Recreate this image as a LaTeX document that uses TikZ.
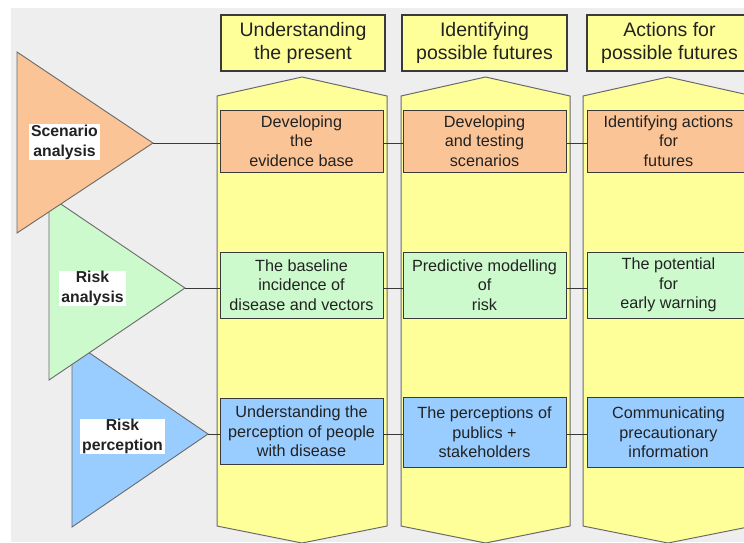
\documentclass[tikz,border=0pt]{standalone}
\usepackage{fontspec}
\setmainfont{Liberation Sans}
\definecolor{bgc}{HTML}{EEEEEE}
\definecolor{yel}{HTML}{FFFF99}
\definecolor{org}{HTML}{FBC496}
\definecolor{grn}{HTML}{CCFACC}
\definecolor{blu}{HTML}{99CCFF}
\definecolor{edge}{HTML}{3A3A3A}
\definecolor{coledge}{HTML}{6A6A6A}
\definecolor{txt}{HTML}{222222}
\tikzset{
  head/.style={draw=edge, line width=1.2pt, fill=yel, minimum height=56pt, inner sep=0pt, align=center, text=txt, font=\fontsize{19.5}{23}\selectfont},
  cell/.style={draw=edge, line width=1pt, minimum width=163pt, inner sep=0pt, align=center, text=txt, font=\fontsize{16.2}{19.5}\selectfont},
  column/.style={draw=coledge, line width=1pt, fill=yel},
  tri/.style={draw=coledge, line width=0.9pt},
  trilabel/.style={fill=white, inner xsep=2pt, inner ysep=0.5pt, align=center, text=txt, font=\bfseries\fontsize{15.8}{20}\selectfont},
  link/.style={draw=edge, line width=0.9pt}
}
\begin{document}
\begin{tikzpicture}[x=1pt, y=-1pt]
\useasboundingbox (0,0) rectangle (744,542);
\clip (0,0) rectangle (744,542);
\fill[bgc] (11,8) rectangle (744,542);

% columns
\draw[column] (217,96) -- (302,77) -- (387,96) -- (387,526) -- (302,543) -- (217,526) -- cycle;
\draw[column] (401,96) -- (485.5,77) -- (570,96) -- (570,526) -- (485.5,543) -- (401,526) -- cycle;
\draw[column] (583,96) -- (668,77) -- (753,96) -- (753,526) -- (668,543) -- (583,526) -- cycle;

% headers
\node[head, minimum width=164pt] (h1) at (303,43) {Understanding\\the present};
\node[head, minimum width=165pt] (h2) at (484.5,43) {Identifying\\possible futures};
\node[head, minimum width=165pt] (h3) at (669.5,43) {Actions for\\possible futures};

% triangles (blue, green, orange order)
\draw[tri, fill=blu] (72,341) -- (208,434) -- (72,527) -- cycle;
\coordinate (tipP) at (208,434);
\draw[tri, fill=grn] (49,196) -- (185,288) -- (49,380) -- cycle;
\coordinate (tipR) at (185,288);
\draw[tri, fill=org] (17,52) -- (153,143) -- (17,233) -- cycle;
\coordinate (tipS) at (153,143);

\node[trilabel] (lS) at (64.5,142) {Scenario\\analysis};
\node[trilabel] (lR) at (92.5,288.5) {Risk\\analysis};
\node[trilabel] (lP) at (122.5,436.5) {Risk\\perception};

% cells row 1
\node[cell, fill=org, minimum height=62pt] (a1) at (301.5,141) {Developing\\the\\evidence base};
\node[cell, fill=org, minimum height=62pt] (a2) at (484.5,141) {Developing\\and testing\\scenarios};
\node[cell, fill=org, minimum height=62pt] (a3) at (668.5,141) {Identifying actions\\for\\futures};
% row 2
\node[cell, fill=grn, minimum height=66pt] (b1) at (301.5,285) {The baseline\\incidence of\\disease and vectors};
\node[cell, fill=grn, minimum height=66pt] (b2) at (484.5,285) {Predictive modelling\\of\\risk};
\node[cell, fill=grn, minimum height=66pt] (b3) at (668.5,285) {The potential\\for\\early warning};
% row 3
\node[cell, fill=blu, minimum height=66pt] (c1) at (301.5,431.5) {Understanding the\\perception of people\\with disease};
\node[cell, fill=blu, minimum height=70pt] (c2) at (484.5,432.5) {The perceptions of\\publics +\\stakeholders};
\node[cell, fill=blu, minimum height=70pt] (c3) at (668.5,432.5) {Communicating\\precautionary\\information};

% connectors
\draw[link] (tipS) -- (tipS -| a1.west);
\draw[link] (a1.east |- 0,143) -- (a2.west |- 0,143);
\draw[link] (a2.east |- 0,143) -- (a3.west |- 0,143);
\draw[link] (tipR) -- (tipR -| b1.west);
\draw[link] (b1.east |- 0,288) -- (b2.west |- 0,288);
\draw[link] (b2.east |- 0,288) -- (b3.west |- 0,288);
\draw[link] (tipP) -- (tipP -| c1.west);
\draw[link] (c1.east |- 0,434) -- (c2.west |- 0,434);
\draw[link] (c2.east |- 0,434) -- (c3.west |- 0,434);
\end{tikzpicture}
\end{document}
